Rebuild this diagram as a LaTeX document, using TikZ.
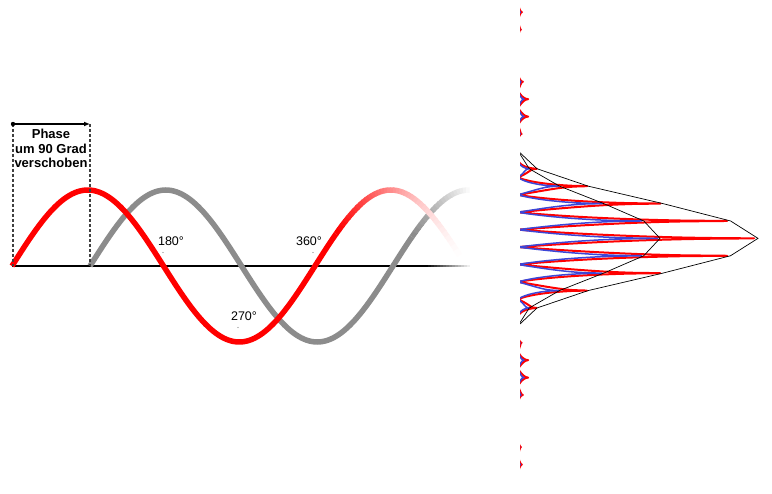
\documentclass[tikz,border=0pt]{standalone}
\usepackage{fontspec}
\setmainfont{Liberation Sans}
\usetikzlibrary{arrows.meta}
\tikzset{
  wavered/.style={line width=5.5pt, color=red},
  wavegray/.style={line width=5.5pt, color=black!45},
  axisline/.style={line width=2.6pt, color=black},
  guide/.style={line width=1.3pt, color=black!75, dash pattern=on 3pt off 2pt},
  lbl/.style={font=\fontsize{12.5}{14}\selectfont, inner sep=0pt},
  tick/.style={fill=black!50},
  phasetxt/.style={font=\bfseries\fontsize{13}{14.5}\selectfont, align=center, inner sep=0pt},
  fringered/.style={line width=2pt, color=red, line join=round},
  fringeblue/.style={line width=1.5pt, color={rgb,255:red,60;green,70;blue,215}, line join=round},
  envelope/.style={line width=0.7pt, color=black},
  declare function={
    Sx(\t)=(\t-238.3573)/29;
    Sn(\t)=ifthenelse(abs(Sx(\t))<0.05, 1-Sx(\t)^2/3, (sin(Sx(\t) r)/Sx(\t))^2);
    Tu(\t)=abs(mod((\t-238.37)/17.4+20.5,1)-0.5)*2;
    Fr(\t)=1-(Tu(\t)+0.0001)^0.5;
    sr(\x)=266-76*sin((\x-12)/303*360);
    sg(\x)=266-76*sin((\x-90)/303*360);
  }
}
\begin{document}
\begin{tikzpicture}[x=1pt,y=-1pt]
\useasboundingbox[fill=white] (0,0) rectangle (772,494);

% ---------- left: phase-shifted sine waves ----------
\coordinate (ax0) at (12,266);
\coordinate (ax1) at (425,266);
\draw[axisline] (ax0) -- (ax1);
\foreach \a in {425,428,...,467} {
  \pgfmathsetmacro\p{100*(1-(\a-425)/45)}
  \draw[line width=2.6pt, color=black!\p!white] (\a,266) -- (\a+3.3,266);
}

% gray wave (shifted by 90 degrees)
\draw[wavegray] plot[domain=90:412, samples=120] (\x,{sg(\x)});
\foreach \a in {412,415,...,466} {
  \pgfmathsetmacro\p{45*(1-(\a-412)/57)}
  \draw[line width=5.5pt, color=black!\p!white] plot[domain=\a:\a+3.6, samples=3] (\x,{sg(\x)});
}

% red wave
\draw[wavered] plot[domain=12:336, samples=120] (\x,{sr(\x)});
\foreach \a in {336,339,...,457} {
  \pgfmathsetmacro\p{100*(1-(\a-336)/124)^1.4}
  \draw[line width=5.5pt, color=red!\p!white] plot[domain=\a:\a+3.6, samples=3] (\x,{sr(\x)});
}

% phase arrow and guides
\coordinate (phs) at (13,124);
\coordinate (phe) at (90,124);
\coordinate (phsb) at (13,266);
\coordinate (pheb) at (90,266);
\draw[guide] (phs) -- (phsb);
\draw[guide] (phe) -- (pheb);
\draw[line width=1.3pt, -{Latex[length=6pt,width=5pt]}] (phs) -- (phe);
\fill (phs) circle (2.2pt);
\node[phasetxt] (phase) at (51,148.5) {Phase\\um 90 Grad\\verschoben};

% degree labels
\node[lbl] (l180) at (171,241) {180°};
\node[lbl] (l360) at (309,241) {360°};
\node[lbl] (l270) at (244,316) {270°};
\fill[tick] (163,252.5) circle (0.7pt);
\fill[tick] (313,252.5) circle (0.7pt);
\fill[tick] (238,327.5) circle (0.7pt);

% ---------- right: interference pattern ----------
\begin{scope}
\clip (520,4) rectangle (772,476);
\draw[fringered] plot[variable=\t, domain=3.47:473.27, samples=1081] ({518+240*Sn(\t)*Fr(\t)}, \t);
\draw[fringeblue] plot[variable=\t, domain=3.47:473.27, samples=1081] ({518+142*Sn(\t)*Fr(\t)}, \t);
\draw[envelope] plot[variable=\t, domain=151.37:325.37, samples=11] ({518+240*Sn(\t)}, \t);
\draw[envelope] plot[variable=\t, domain=151.37:325.37, samples=11] ({518+142*Sn(\t)}, \t);
\end{scope}
\end{tikzpicture}
\end{document}
